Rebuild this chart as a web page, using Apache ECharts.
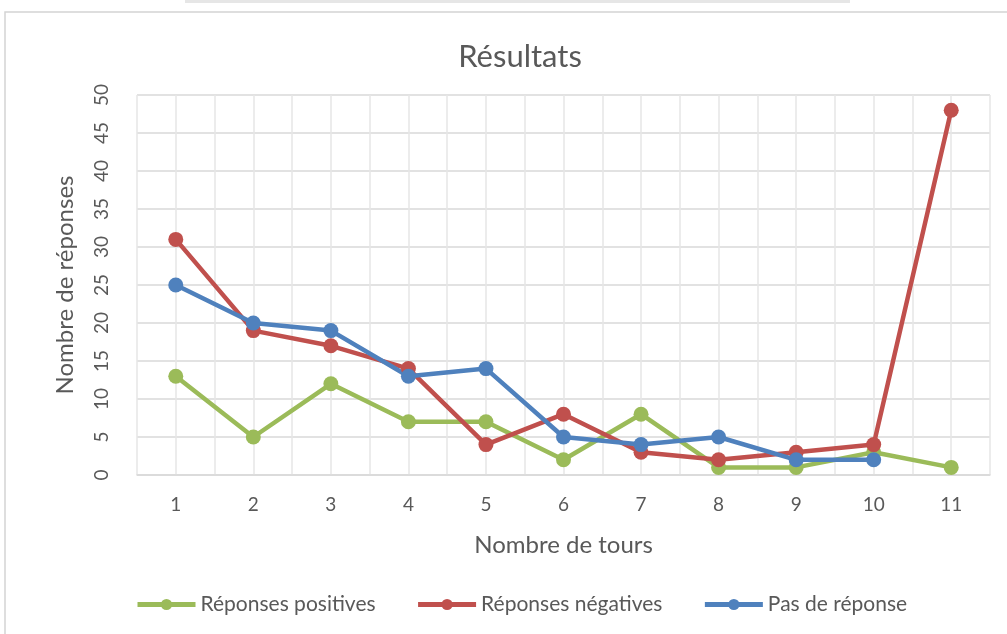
<!DOCTYPE html>
<html>
<head>
<meta charset="utf-8">
<script src="https://cdn.jsdelivr.net/npm/echarts@6/dist/echarts.min.js"></script>
<style>
  html, body { margin: 0; padding: 0; background: #fff; }
  #chart { width: 1007px; height: 634px; }
</style>
</head>
<body>
<div id="chart"></div>
<script>
// data
const tours = [1, 2, 3, 4, 5, 6, 7, 8, 9, 10, 11]
const positives = [13, 5, 12, 7, 7, 2, 8, 1, 1, 3, 1]
const negatives = [31, 19, 17, 14, 4, 8, 3, 2, 3, 4, 48]
const noAnswer = [25, 20, 19, 13, 14, 5, 4, 5, 2, 2, null]
const seriesNames = ['Réponses positives', 'Réponses négatives', 'Pas de réponse']
const colors = ['#9BBB59', '#C0504D', '#4F81BD']

const chart = echarts.init(document.getElementById('chart'))
const txt = '#595959'
const font = 'Lato, "Open Sans", sans-serif'

const pairs = vals => tours.map((t, i) => [t, vals[i]])

chart.setOption({
  animation: false,
  textStyle: { fontFamily: font },
  color: colors,
  graphic: [
    { type: 'rect', shape: { x: 5, y: 12, width: 1010, height: 630 },
      style: { fill: 'none', stroke: '#d4d4d4', lineWidth: 1.5 } },
    { type: 'rect', shape: { x: 185, y: 0, width: 665, height: 3 },
      style: { fill: '#e6e6e6' } }
  ],
  title: {
    text: 'Résultats',
    left: 515, top: 36, textAlign: 'center',
    textStyle: { fontFamily: font, fontSize: 31, fontWeight: 'normal', color: txt }
  },
  grid: { left: 137, right: 17, top: 95, bottom: 159, containLabel: false },
  legend: {
    data: seriesNames,
    left: 130, top: 589,
    itemWidth: 58, itemHeight: 14, itemGap: 40,
    lineStyle: { width: 5 },
    textStyle: { fontFamily: font, fontSize: 21, color: txt }
  },
  xAxis: {
    type: 'value', min: 0.5, max: 11.5, interval: 0.5,
    name: 'Nombre de tours', nameLocation: 'middle', nameGap: 58,
    nameTextStyle: { fontFamily: font, fontSize: 24, color: txt },
    axisLine: { show: true, lineStyle: { color: '#d9d9d9', width: 1.5 } },
    axisTick: { show: false },
    axisLabel: {
      margin: 20, fontSize: 19, color: txt, fontFamily: font,
      formatter: v => Number.isInteger(v) ? String(v) : ''
    },
    splitLine: { show: true, lineStyle: { color: '#e6e6e6', width: 1.5 } }
  },
  yAxis: {
    type: 'value', min: 0, max: 50, interval: 5,
    name: 'Nombre de réponses', nameLocation: 'middle', nameGap: 60, nameRotate: 90,
    nameTextStyle: { fontFamily: font, fontSize: 24, color: txt },
    axisLine: { show: false },
    axisTick: { show: false },
    axisLabel: { rotate: 90, margin: 26, fontSize: 19, color: txt, fontFamily: font },
    splitLine: { show: true, lineStyle: { color: '#d9d9d9', width: 1.5 } }
  },
  series: [
    { name: seriesNames[0], type: 'line', data: pairs(positives) },
    { name: seriesNames[1], type: 'line', data: pairs(negatives) },
    { name: seriesNames[2], type: 'line', data: pairs(noAnswer) }
  ].map((s, i) => Object.assign(s, {
    symbol: 'circle', symbolSize: 15,
    lineStyle: { width: 4.5, color: colors[i] },
    itemStyle: { color: colors[i] }
  }))
})
</script>
</body>
</html>
